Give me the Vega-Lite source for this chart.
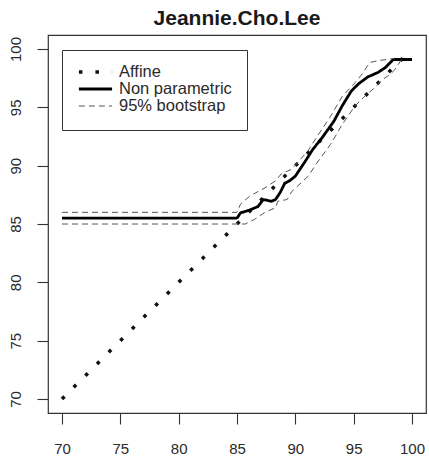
{
  "$schema": "https://vega.github.io/schema/vega-lite/v6.json",
  "width": 378,
  "height": 378,
  "autosize": {"type": "none"},
  "padding": {"left": 48, "top": 35, "right": 3, "bottom": 49},
  "background": "white",
  "title": {
    "text": "Jeannie.Cho.Lee",
    "font": "Liberation Sans",
    "fontSize": 21,
    "fontWeight": "bold",
    "color": "#1a1a1a",
    "anchor": "middle",
    "frame": "group",
    "baseline": "alphabetic",
    "offset": -11
  },
  "config": {
    "view": {"stroke": "#333", "strokeWidth": 1.2},
    "axis": {
      "grid": false,
      "domain": false,
      "labelFont": "Liberation Sans",
      "labelFontSize": 15,
      "labelColor": "#2a2a2a",
      "tickColor": "#333",
      "tickWidth": 1.1,
      "tickSize": 11,
      "title": null
    },
    "legend": {
      "labelFont": "Liberation Sans",
      "labelFontSize": 16.5,
      "labelColor": "#2a2a2a"
    }
  },
  "data": {
    "values": [
      {"x": 70, "y": 70, "series": "affine", "type": "Affine"},
      {"x": 100, "y": 100, "series": "affine", "type": "Affine"},

      {"x": 70, "y": 85.5, "series": "np", "type": "Non parametric"},
      {"x": 85, "y": 85.5, "series": "np", "type": "Non parametric"},
      {"x": 85.3, "y": 85.95, "series": "np", "type": "Non parametric"},
      {"x": 86.1, "y": 86.2, "series": "np", "type": "Non parametric"},
      {"x": 86.8, "y": 86.5, "series": "np", "type": "Non parametric"},
      {"x": 87.25, "y": 87.1, "series": "np", "type": "Non parametric"},
      {"x": 87.95, "y": 86.95, "series": "np", "type": "Non parametric"},
      {"x": 88.3, "y": 87.1, "series": "np", "type": "Non parametric"},
      {"x": 88.7, "y": 87.7, "series": "np", "type": "Non parametric"},
      {"x": 89.1, "y": 88.5, "series": "np", "type": "Non parametric"},
      {"x": 89.5, "y": 88.7, "series": "np", "type": "Non parametric"},
      {"x": 90.0, "y": 89.1, "series": "np", "type": "Non parametric"},
      {"x": 90.8, "y": 90.3, "series": "np", "type": "Non parametric"},
      {"x": 91.5, "y": 91.4, "series": "np", "type": "Non parametric"},
      {"x": 92.3, "y": 92.4, "series": "np", "type": "Non parametric"},
      {"x": 93.3, "y": 93.8, "series": "np", "type": "Non parametric"},
      {"x": 94.0, "y": 95.1, "series": "np", "type": "Non parametric"},
      {"x": 94.8, "y": 96.4, "series": "np", "type": "Non parametric"},
      {"x": 95.4, "y": 97.0, "series": "np", "type": "Non parametric"},
      {"x": 96.2, "y": 97.6, "series": "np", "type": "Non parametric"},
      {"x": 97.1, "y": 98.0, "series": "np", "type": "Non parametric"},
      {"x": 97.7, "y": 98.4, "series": "np", "type": "Non parametric"},
      {"x": 98.4, "y": 99.1, "series": "np", "type": "Non parametric"},
      {"x": 100, "y": 99.1, "series": "np", "type": "Non parametric"},

      {"x": 70, "y": 86, "series": "up", "type": "95% bootstrap"},
      {"x": 85, "y": 86, "series": "up", "type": "95% bootstrap"},
      {"x": 85.3, "y": 86.7, "series": "up", "type": "95% bootstrap"},
      {"x": 86.1, "y": 87.4, "series": "up", "type": "95% bootstrap"},
      {"x": 87.4, "y": 88.1, "series": "up", "type": "95% bootstrap"},
      {"x": 88.3, "y": 88.7, "series": "up", "type": "95% bootstrap"},
      {"x": 88.8, "y": 89.3, "series": "up", "type": "95% bootstrap"},
      {"x": 89.7, "y": 89.7, "series": "up", "type": "95% bootstrap"},
      {"x": 90.4, "y": 90.5, "series": "up", "type": "95% bootstrap"},
      {"x": 91.1, "y": 91.3, "series": "up", "type": "95% bootstrap"},
      {"x": 92.0, "y": 92.7, "series": "up", "type": "95% bootstrap"},
      {"x": 93.0, "y": 94.2, "series": "up", "type": "95% bootstrap"},
      {"x": 94.0, "y": 95.9, "series": "up", "type": "95% bootstrap"},
      {"x": 95.1, "y": 97.1, "series": "up", "type": "95% bootstrap"},
      {"x": 95.6, "y": 97.7, "series": "up", "type": "95% bootstrap"},
      {"x": 96.4, "y": 98.85, "series": "up", "type": "95% bootstrap"},
      {"x": 97.1, "y": 99.0, "series": "up", "type": "95% bootstrap"},
      {"x": 98.5, "y": 99.2, "series": "up", "type": "95% bootstrap"},

      {"x": 70, "y": 85, "series": "lo", "type": "95% bootstrap"},
      {"x": 85.7, "y": 85, "series": "lo", "type": "95% bootstrap"},
      {"x": 86.5, "y": 85.4, "series": "lo", "type": "95% bootstrap"},
      {"x": 87.4, "y": 86.0, "series": "lo", "type": "95% bootstrap"},
      {"x": 88.3, "y": 86.4, "series": "lo", "type": "95% bootstrap"},
      {"x": 88.5, "y": 86.95, "series": "lo", "type": "95% bootstrap"},
      {"x": 89.3, "y": 87.1, "series": "lo", "type": "95% bootstrap"},
      {"x": 89.7, "y": 87.8, "series": "lo", "type": "95% bootstrap"},
      {"x": 90.2, "y": 88.25, "series": "lo", "type": "95% bootstrap"},
      {"x": 91.1, "y": 89.1, "series": "lo", "type": "95% bootstrap"},
      {"x": 91.9, "y": 90.3, "series": "lo", "type": "95% bootstrap"},
      {"x": 93.0, "y": 91.8, "series": "lo", "type": "95% bootstrap"},
      {"x": 94.0, "y": 93.5, "series": "lo", "type": "95% bootstrap"},
      {"x": 95.1, "y": 95.1, "series": "lo", "type": "95% bootstrap"},
      {"x": 96.0, "y": 96.0, "series": "lo", "type": "95% bootstrap"},
      {"x": 96.7, "y": 96.6, "series": "lo", "type": "95% bootstrap"},
      {"x": 97.5, "y": 97.4, "series": "lo", "type": "95% bootstrap"},
      {"x": 98.1, "y": 97.8, "series": "lo", "type": "95% bootstrap"},
      {"x": 98.5, "y": 98.2, "series": "lo", "type": "95% bootstrap"},
      {"x": 99.1, "y": 99.1, "series": "lo", "type": "95% bootstrap"}
    ]
  },
  "mark": {"type": "line", "clip": true},
  "encoding": {
    "x": {
      "field": "x",
      "type": "quantitative",
      "scale": {"domain": [68.8, 101.2], "nice": false, "zero": false},
      "axis": {"values": [70, 75, 80, 85, 90, 95, 100], "labelPadding": 17, "labelAngle": 0}
    },
    "y": {
      "field": "y",
      "type": "quantitative",
      "scale": {"domain": [68.8, 101.2], "nice": false, "zero": false},
      "axis": {"values": [70, 75, 80, 85, 90, 95, 100], "labelAngle": 270, "labelAlign": "center", "labelBaseline": "bottom", "labelPadding": 14}
    },
    "detail": {"field": "series"},
    "strokeDash": {
      "field": "type",
      "type": "nominal",
      "scale": {"type": "ordinal", "domain": ["Affine", "Non parametric", "95% bootstrap"], "range": [[3.5, 13], [1, 0], [6, 4]]},
      "legend": {
        "title": null,
        "orient": "none",
        "legendX": 14,
        "legendY": 15,
        "padding": 15,
        "strokeColor": "#333",
        "fillColor": "white",
        "cornerRadius": 0,
        "symbolType": "stroke",
        "symbolSize": 1100,
        "clipHeight": 14,
        "rowPadding": 0,
        "labelOffset": 5
      }
    },
    "strokeWidth": {
      "field": "type",
      "type": "nominal",
      "scale": {"type": "ordinal", "domain": ["Affine", "Non parametric", "95% bootstrap"], "range": [3.5, 2.8, 1]}
    },
    "color": {
      "field": "type",
      "type": "nominal",
      "scale": {"domain": ["Affine", "Non parametric", "95% bootstrap"], "range": ["#111", "#000", "#555"]}
    }
  }
}
